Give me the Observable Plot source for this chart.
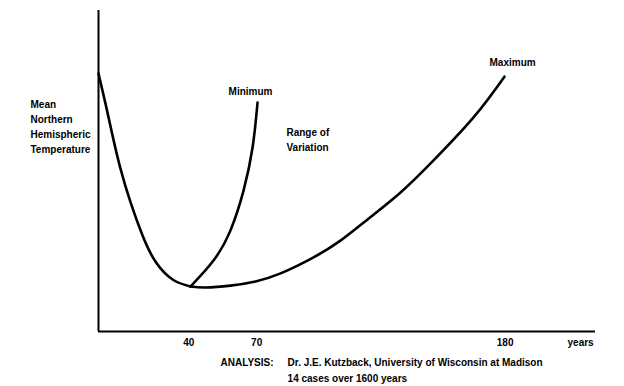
<!DOCTYPE html>
<html>
<head>
<meta charset="utf-8">
<script src="https://cdn.jsdelivr.net/npm/d3@7"></script>
<script src="https://cdn.jsdelivr.net/npm/@observablehq/plot@0.6"></script>
<style>
  html, body { margin: 0; padding: 0; background: #fff; }
  #chart svg { display: block; }
</style>
</head>
<body>
<div id="chart"></div>
<script>
// Curve (x = years, y = relative temperature index 0..100)
const coolingX = [0, 3.1, 6.2, 9.7, 14.2, 19.5, 25.2, 32.8, 40.7];
const coolingY = [80.4, 71.0, 61.1, 50.8, 40.2, 29.9, 21.8, 16.2, 14.0];

const minimumX = [40.7, 50.9, 58.4, 64.2, 68.2, 70.4];
const minimumY = [14.0, 22.1, 31.5, 43.9, 57.3, 71.3];

const maximumX = [40.7, 47.4, 58.4, 69.5, 80.6, 95.2, 107.1, 119.1, 133.7, 148.3, 166.0, 179.7];
const maximumY = [14.0, 13.7, 14.3, 15.6, 18.1, 23.1, 28.3, 34.9, 43.3, 53.3, 66.7, 79.4];

const tickYears = [40, 70, 180];

// Annotation texts and their anchors (data units)
const labelText   = ["Minimum", "Maximum", "Range of\nVariation", "Mean\nNorthern\nHemispheric\nTemperature", "years", "ANALYSIS:", "Dr. J.E. Kutzback, University of Wisconsin at Madison", "14 cases over 1600 years"];
const labelX      = [67.3, 183.3, 83.2, -30.1, 213.4, 77.5, 83.7, 83.7];
const labelY      = [75.1, 84.1, 60.1, 64.0, -3.1, -9.35, -9.35, -14.3];
const labelAnchor = ["middle", "middle", "start", "start", "middle", "end", "start", "start"];

const toPts = (xs, ys, name) => xs.map((x, i) => ({x, y: ys[i], name}));
const curves = [
  ...toPts(coolingX, coolingY, "cool"),
  ...toPts(minimumX, minimumY, "min"),
  ...toPts(maximumX, maximumY, "max")
];
const labels = labelText.map((t, i) => ({t, x: labelX[i], y: labelY[i], a: labelAnchor[i]}));

const plot = Plot.plot({
  width: 624,
  height: 386,
  marginLeft: 98,
  marginRight: 29,
  marginTop: 10,
  marginBottom: 55,
  style: {fontFamily: "'Liberation Sans', Arial, sans-serif", fontSize: "10px", fontWeight: "bold", color: "#000", background: "#fff"},
  x: {domain: [0, 220], ticks: tickYears, tickSize: 0, tickPadding: 7, label: null},
  y: {domain: [0, 100], axis: null},
  marks: [
    Plot.ruleX([0], {stroke: "#000", strokeWidth: 2}),
    Plot.ruleY([0], {stroke: "#000", strokeWidth: 2}),
    Plot.line(curves, {x: "x", y: "y", z: "name", curve: "natural", stroke: "#000", strokeWidth: 2.6}),
    ...["start", "middle", "end"].map(anchor =>
      Plot.text(labels.filter(d => d.a === anchor), {x: "x", y: "y", text: "t", textAnchor: anchor, lineHeight: 1.5, fill: "#000"})
    )
  ]
});
document.getElementById("chart").append(plot);
</script>
</body>
</html>
